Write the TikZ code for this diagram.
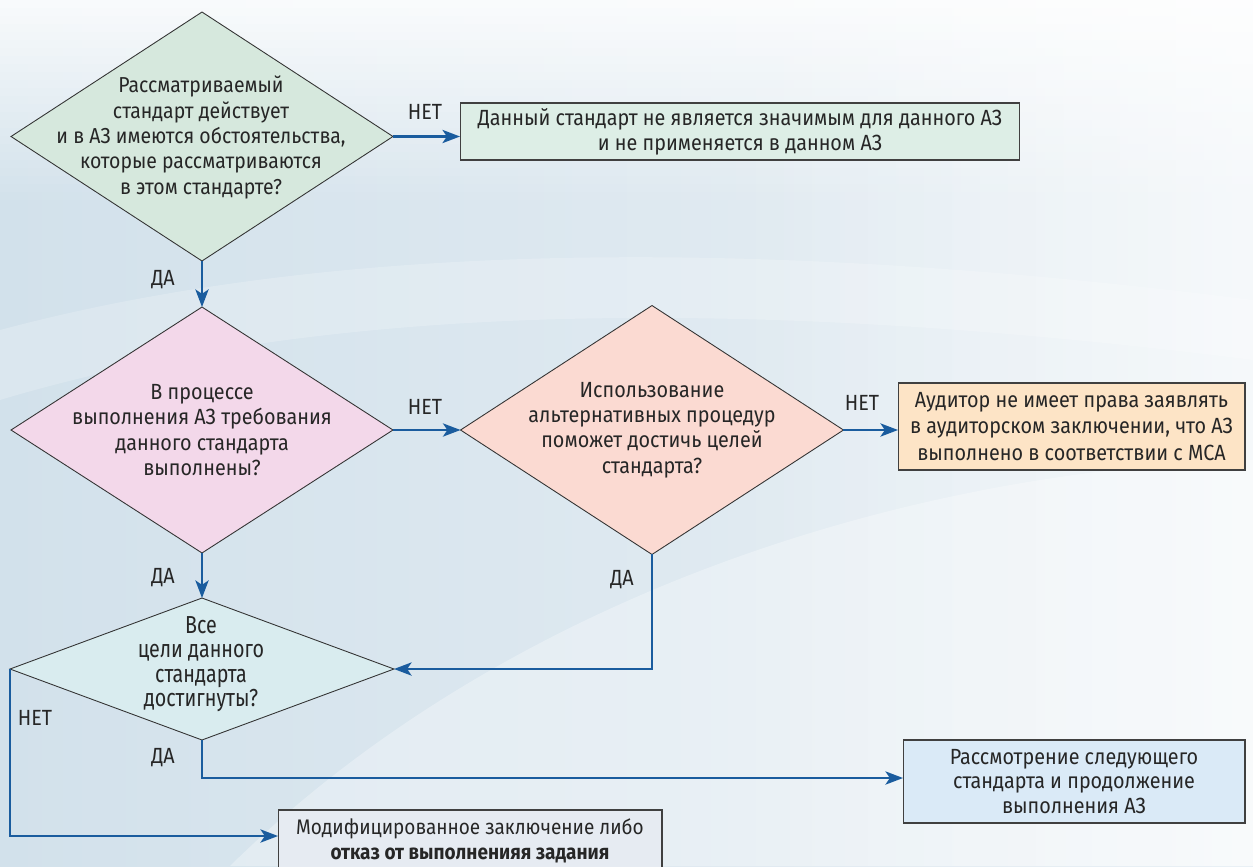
\documentclass[tikz,border=0pt]{standalone}
\usepackage{fontspec}
\setmainfont{Fira Sans}[FakeStretch=0.9]
\usetikzlibrary{shapes.geometric,arrows.meta}
\definecolor{bgA}{HTML}{D2E1EB}
\definecolor{bgB}{HTML}{E9F0F5}
\definecolor{linec}{HTML}{1A5C9E}
\definecolor{textc}{HTML}{262626}
\definecolor{cA}{HTML}{D6E8DD}
\definecolor{cB}{HTML}{DDEEE6}
\definecolor{cC}{HTML}{F3D8EA}
\definecolor{cD}{HTML}{FBDAD2}
\definecolor{cE}{HTML}{FDE4C6}
\definecolor{cF}{HTML}{D9ECEF}
\definecolor{cG}{HTML}{DAEAF7}
\definecolor{cH}{HTML}{E6EBF2}
\begin{document}
\begin{tikzpicture}[x=0.02cm,y=-0.02cm,
  dia/.style={diamond, draw=black!80, line width=0.5pt, inner sep=0pt, outer sep=0pt},
  txt/.style={align=center, font=\fontsize{12.5}{14.2}\selectfont, text=textc, inner sep=0pt},
  boxs/.style={draw=black!75, line width=0.6pt, inner sep=0pt, outer sep=0pt, align=center, font=\fontsize{12.5}{14.2}\selectfont, text=textc},
  conn/.style={draw=linec, line width=1.4pt, -{Stealth[length=10pt,width=7.5pt,inset=2.5pt]}},
  lab/.style={font=\fontsize{12.5}{14}\selectfont, text=textc, inner sep=0pt}]
\useasboundingbox (0,0) rectangle (1253,866);
\begin{scope}
\clip (0,0) rectangle (1253,866);
% background
\shade[left color=bgA, right color=bgB] (0,0) rectangle (1253,866);
\foreach \i in {0,...,24} {
  \pgfmathsetmacro{\op}{0.85*(1-\i/25)}
  \fill[white, opacity=\op] (0,\i*8) rectangle (1253,\i*8+8);
}
\foreach \i in {0,...,19} {
  \pgfmathsetmacro{\op}{0.03*\i}
  \fill[white, opacity=\op] (700+\i*28,0) rectangle (728+\i*28,866);
}
\fill[white, opacity=0.3] (230,866) .. controls (500,600) and (900,470) .. (1253,460) -- (1253,866) -- cycle;
\fill[white, opacity=0.2] (0,330) .. controls (300,250) and (700,230) .. (1253,300) -- (1253,360) .. controls (700,290) and (300,310) .. (0,400) -- cycle;

% diamonds
\node[dia, fill=cA, minimum width=7.64cm, minimum height=4.98cm] (d1) at (202,136.5) {};
\node[txt, font=\fontsize{12.3}{14.4}\selectfont] (t1) at (201,137.5) {Рассматриваемый\\стандарт действует\\и в АЗ имеются обстоятельства,\\которые рассматриваются\\в этом стандарте?};
\node[dia, fill=cC, minimum width=7.64cm, minimum height=4.92cm] (d2) at (202,430) {};
\node[txt, font=\fontsize{12.5}{14.5}\selectfont] (t2) at (202,430) {В процессе\\выполнения АЗ требования\\данного стандарта\\выполнены?};
\node[dia, fill=cD, minimum width=7.66cm, minimum height=4.98cm] (d3) at (652,430) {};
\node[txt, font=\fontsize{12.5}{14.5}\selectfont] (t3) at (652,430) {Использование\\альтернативных процедур\\поможет достичь целей\\стандарта?};
\node[dia, fill=cF, minimum width=7.68cm, minimum height=2.84cm] (d4) at (202,669) {};
\node[txt, font=\fontsize{14}{13.9}\selectfont\addfontfeatures{FakeStretch=0.8}] (t4) at (201,664) {Все\\цели данного\\стандарта\\достигнуты?};

% boxes
\node[boxs, fill=cB, minimum width=11.2cm, minimum height=1.14cm] (b1) at (740,131.5) {Данный стандарт не является значимым для данного АЗ\\и не применяется в данном АЗ};
\node[boxs, fill=cE, minimum width=6.94cm, minimum height=1.74cm, font=\fontsize{12.5}{15}\selectfont] (b2) at (1071.5,426.5) {Аудитор не имеет права заявлять\\в аудиторском заключении, что АЗ\\выполнено в соответствии с МСА};
\node[boxs, fill=cG, minimum width=6.84cm, minimum height=1.66cm, font=\fontsize{12.5}{13.8}\selectfont] (b3) at (1074,781.5) {Рассмотрение следующего\\стандарта и продолжение\\выполнения АЗ};
\node[boxs, fill=cH, minimum width=7.68cm, minimum height=1.24cm, font=\fontsize{12}{14}\selectfont] (b4) at (470,841) {Модифицированное заключение либо\\\textbf{отказ от выполненияя задания}};

% connectors
\draw[conn] (d1.east) -- (d1.east -| b1.west);
\draw[conn] (d1.south) -- (d2.north);
\draw[conn] (d2.east) -- (d3.west);
\draw[conn] (d3.east) -- (d3.east -| b2.west);
\draw[conn] (d2.south) -- (d4.north);
\draw[conn] (d3.south) |- (d4.east);
\draw[conn] (d4.south) |- ([yshift=0.07cm]b3.west);
\draw[conn] (d4.west) |- ([yshift=0.1cm]b4.west);

% labels
\node[lab] (l1) at (425,112) {НЕТ};
\node[lab] (l2) at (163,280) {ДА};
\node[lab] (l3) at (425,407) {НЕТ};
\node[lab] (l4) at (862,403) {НЕТ};
\node[lab] (l5) at (163,578) {ДА};
\node[lab] (l6) at (622,580) {ДА};
\node[lab] (l7) at (163,758) {ДА};
\node[lab] (l8) at (35,718) {НЕТ};
\end{scope}
\end{tikzpicture}
\end{document}
